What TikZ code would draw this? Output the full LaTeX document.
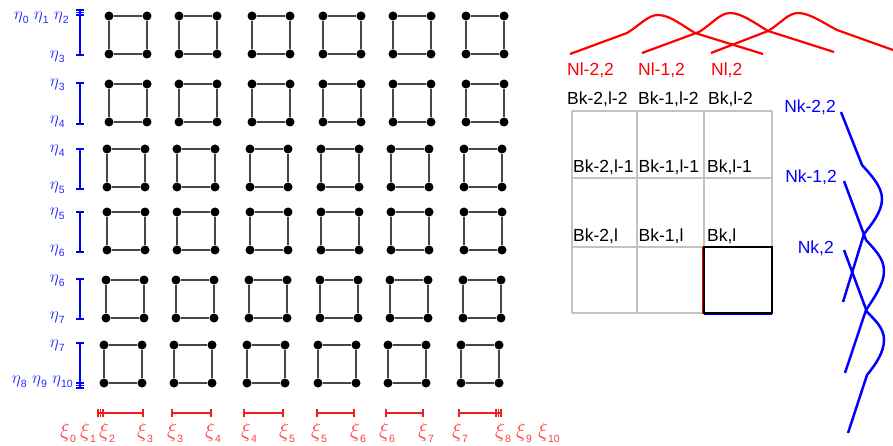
\documentclass[tikz,border=0pt]{standalone}
\usepackage{fontspec}
\setmainfont{Liberation Sans}
\definecolor{etablue}{RGB}{40,40,255}
\definecolor{xired}{RGB}{255,60,60}
\definecolor{barred}{RGB}{240,30,30}
\definecolor{gridgray}{RGB}{195,195,195}
\definecolor{edgegray}{RGB}{70,70,70}
\newcommand\gsub[1]{\raisebox{-0.22em}{\fontsize{10.5}{11}\selectfont #1}}
\newcommand\geta[1]{$\eta$\gsub{#1}}
\newcommand\gxi[1]{$\xi$\gsub{#1}}
\begin{document}
\begin{tikzpicture}[x=1pt,y=-1pt,
  dot/.style={circle,fill=black,inner sep=0pt,minimum size=9pt},
  sqedge/.style={draw=edgegray,line width=1.4pt},
  etabar/.style={draw=blue,line width=1.6pt},
  xibar/.style={draw=barred,line width=1.6pt},
  greek/.style={inner sep=0pt,font=\fontsize{19}{20}\selectfont},
  etalbl/.style={greek,text=etablue,anchor=east},
  xilbl/.style={inner sep=0pt,font=\fontsize{20.5}{21}\selectfont,text=xired,anchor=center},
  blbl/.style={inner sep=0pt,font=\fontsize{17.5}{19}\selectfont,anchor=base west},
  gridline/.style={draw=gridgray,line width=1.4pt},
  rcurve/.style={draw=red,line width=2.2pt,line join=round},
  bcurve/.style={draw=blue,line width=2.5pt,line join=round}]
\useasboundingbox (0,0) rectangle (893,446);

% ---------- squares ----------
\foreach \r/\yy/\dx in {1/16/0,2/84/0,3/149/-2,4/212/-2,5/280/-3,6/345/-5}{
  \foreach \c/\xx in {1/109,2/179,3/252,4/323,5/393,6/466}{
    \node[dot] (d-\r-\c-a) at (\xx+\dx,\yy) {};
    \node[dot] (d-\r-\c-b) at (\xx+\dx+38,\yy) {};
    \node[dot] (d-\r-\c-c) at (\xx+\dx+38,\yy+38) {};
    \node[dot] (d-\r-\c-d) at (\xx+\dx,\yy+38) {};
    \draw[sqedge] (d-\r-\c-a) -- (d-\r-\c-b) (d-\r-\c-b) -- (d-\r-\c-c)
                  (d-\r-\c-c) -- (d-\r-\c-d) (d-\r-\c-d) -- (d-\r-\c-a);
  }
}

% ---------- eta bars ----------
\foreach \r/\ta/\tb in {1/10/55,2/83/124,3/149/189,4/212/252,5/279/319,6/343/388}{
  \coordinate (et-\r) at (80,\ta);
  \coordinate (eb-\r) at (80,\tb);
  \draw[etabar] (et-\r) -- (eb-\r);
  \draw[etabar] ([xshift=-4]et-\r) -- ([xshift=4]et-\r);
  \draw[etabar] ([xshift=-4]eb-\r) -- ([xshift=4]eb-\r);
}
\draw[etabar] ([xshift=-4,yshift=-2.5]et-1) -- ([xshift=4,yshift=-2.5]et-1);
\draw[etabar] ([xshift=-4,yshift=-5]et-1) -- ([xshift=4,yshift=-5]et-1);
\draw[etabar] ([xshift=-4,yshift=2.5]eb-6) -- ([xshift=4,yshift=2.5]eb-6);
\draw[etabar] ([xshift=-4,yshift=5]eb-6) -- ([xshift=4,yshift=5]eb-6);

\node[etalbl] (l-1t) at (69,18) {\geta{0} \geta{1} \geta{2}};
\node[etalbl] (l-1b) at (65,57) {\geta{3}};
\foreach \r/\ta/\tb in {2/85/122,3/151/188,4/214/251,5/281/318}{
  \pgfmathtruncatemacro{\na}{\r+1}
  \pgfmathtruncatemacro{\nb}{\r+2}
  \node[etalbl] (l-\r t) at (65,\ta) {\geta{\na}};
  \node[etalbl] (l-\r b) at (65,\tb) {\geta{\nb}};
}
\node[etalbl] (l-6t) at (65,346) {\geta{7}};
\node[etalbl] (l-6b) at (73,382) {\geta{8} \geta{9} \geta{10}};

% ---------- xi bars ----------
\foreach \i/\xa/\xb in {1/98/143,2/172/211,3/244/283,4/317/354,5/386/423,6/459/501}{
  \coordinate (xa-\i) at (\xa,413);
  \coordinate (xb-\i) at (\xb,413);
  \draw[xibar] (xa-\i) -- (xb-\i);
  \draw[xibar] ([yshift=-4]xa-\i) -- ([yshift=4]xa-\i);
  \draw[xibar] ([yshift=-4]xb-\i) -- ([yshift=4]xb-\i);
}
\draw[xibar] ([xshift=2.5,yshift=-4]xa-1) -- ([xshift=2.5,yshift=4]xa-1);
\draw[xibar] ([xshift=5,yshift=-4]xa-1) -- ([xshift=5,yshift=4]xa-1);
\draw[xibar] ([xshift=-2.5,yshift=-4]xb-6) -- ([xshift=-2.5,yshift=4]xb-6);
\draw[xibar] ([xshift=-5,yshift=-4]xb-6) -- ([xshift=-5,yshift=4]xb-6);

\foreach \n/\xx/\s in {0/68/0,1/88/1,2/107/2,3/145/3,4/175/3,5/213/4,6/249/4,7/287/5,
                       8/319/5,9/358/6,10/387/6,11/426/7,12/460/7,13/503/8,14/524/9,15/549/10}{
  \node[xilbl] (xl-\n) at (\xx,433) {\gxi{\s}};
}

% ---------- right grid ----------
\foreach \xx in {572,637,704,772}{
  \coordinate (gt-\xx) at (\xx,111);
  \coordinate (gb-\xx) at (\xx,313);
  \draw[gridline] (gt-\xx) -- (gb-\xx);
}
\foreach \yy in {111,178,247,313}{
  \coordinate (gl-\yy) at (572,\yy);
  \coordinate (gr-\yy) at (772,\yy);
  \draw[gridline] (gl-\yy) -- (gr-\yy);
}
\coordinate (cell-a) at (704,247);
\coordinate (cell-b) at (772,313);
\draw[black,line width=2.2pt] (cell-a) rectangle (cell-b);
\coordinate (cr-a) at (702.8,247);
\coordinate (cr-b) at (702.8,314);
\draw[red,line width=0.8pt] (cr-a) -- (cr-b);
\coordinate (cbl-a) at (704,314.4);
\coordinate (cbl-b) at (772,314.4);
\draw[blue,line width=0.8pt] (cbl-a) -- (cbl-b);

\node[blbl] (b1) at (567,104.5) {Bk-2,l-2};
\node[blbl] (b2) at (638,104.5) {Bk-1,l-2};
\node[blbl] (b3) at (708,104.5) {Bk,l-2};
\node[blbl] (b4) at (573,173) {Bk-2,l-1};
\node[blbl] (b5) at (638.5,173) {Bk-1,l-1};
\node[blbl] (b6) at (707,173) {Bk,l-1};
\node[blbl] (b7) at (573,241) {Bk-2,l};
\node[blbl] (b8) at (638.5,241) {Bk-1,l};
\node[blbl] (b9) at (707,241) {Bk,l};

% ---------- red curves ----------
\draw[rcurve] (570,54) -- (627,33) .. controls (640,25) and (648,15) .. (658,15)
   .. controls (670,15) and (683,26) .. (695,33) -- (763,54);
\draw[rcurve] (642,53) -- (699,32) .. controls (712,24) and (720,13) .. (730,13)
   .. controls (742,13) and (756,24) .. (768,31) -- (834,52);
\draw[rcurve] (711,53) -- (768,31) .. controls (780,24) and (788,13) .. (798,13)
   .. controls (810,13) and (825,24) .. (837,30) -- (893,50);
\node[blbl,text=red] (n1) at (567,76) {Nl-2,2};
\node[blbl,text=red] (n2) at (638,76) {Nl-1,2};
\node[blbl,text=red] (n3) at (711,76) {Nl,2};

% ---------- blue curves ----------
\draw[bcurve] (841,112) -- (862,165) .. controls (870,174) and (882,186) .. (882,199)
   .. controls (882,212) and (871,225) .. (864,234) -- (843,302);
\draw[bcurve] (844,181) -- (866,240) .. controls (874,249) and (884,258) .. (884,271)
   .. controls (884,284) and (874,298) .. (866,310) -- (845,373);
\draw[bcurve] (844,250) -- (867,312) .. controls (875,320) and (884,328) .. (884,340)
   .. controls (884,352) and (876,364) .. (867,375) -- (848,433);
\node[blbl,text=blue,anchor=base east] (k1) at (836,113) {Nk-2,2};
\node[blbl,text=blue,anchor=base east] (k2) at (837,183) {Nk-1,2};
\node[blbl,text=blue,anchor=base east] (k3) at (834,253) {Nk,2};
\end{tikzpicture}
\end{document}
